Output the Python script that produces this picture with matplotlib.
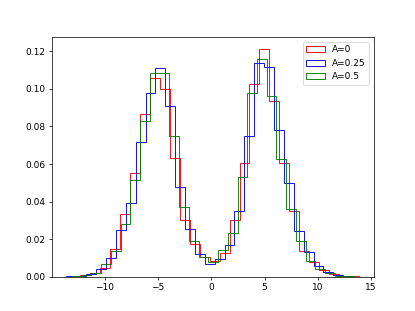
import numpy as np
import matplotlib
matplotlib.use('Agg')
import matplotlib.pyplot as plt

# density heights, one value per bin
red_heights = [0.0003, 0.0008, 0.002, 0.0045, 0.015, 0.0335, 0.055, 0.0868, 0.106, 0.100,
               0.063, 0.030, 0.0176, 0.0105, 0.0085, 0.0125, 0.030, 0.0605, 0.1028, 0.1214,
               0.0938, 0.0607, 0.035, 0.0137, 0.0078, 0.0037, 0.0015, 0.0005, 0.0002]
blue_heights = [0.0002, 0.0005, 0.0015, 0.004, 0.0098, 0.025, 0.0395, 0.072, 0.098, 0.111,
                0.091, 0.048, 0.0255, 0.012, 0.007, 0.0095, 0.017, 0.035, 0.075, 0.114,
                0.1115, 0.078, 0.050, 0.0245, 0.013, 0.0055, 0.0025, 0.0008, 0.0003]
green_heights = [0.0003, 0.0008, 0.002, 0.007, 0.0135, 0.028, 0.0515, 0.083, 0.1085, 0.1085,
                 0.075, 0.037, 0.019, 0.0105, 0.008, 0.0145, 0.0235, 0.053, 0.098, 0.116,
                 0.0965, 0.0625, 0.036, 0.019, 0.0085, 0.004, 0.0018, 0.0006, 0.0003]

# bin ranges (first edge, last edge) for each series
red_range = (-13.23, 13.85)
blue_range = (-13.60, 13.30)
green_range = (-13.10, 13.435)

labels = ['A=0', 'A=0.25', 'A=0.5']
colors = ['r', 'b', 'g']

series = [(red_heights, red_range), (blue_heights, blue_range), (green_heights, green_range)]

plt.figure(figsize=(415/65, 311/65), dpi=65)

for (h, (lo, hi)), lab, c in zip(series, labels, colors):
    edges = np.linspace(lo, hi, len(h) + 1)
    centers = (edges[:-1] + edges[1:]) / 2
    plt.hist(centers, bins=edges, weights=h, histtype='step', color=c, label=lab)

plt.legend(loc='upper right')
plt.savefig('out.png', dpi=65)
